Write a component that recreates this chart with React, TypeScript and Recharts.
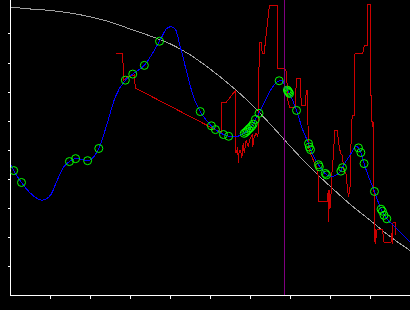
import React from "react";
import { ComposedChart, Line, Scatter, XAxis, YAxis, ReferenceLine } from "recharts";

// axis ticks (no labels in the original)
const xTicks = [1, 2, 3, 4, 5, 6, 7, 8, 9];
const yTicks = [1, 2, 3, 4, 5, 6, 7, 8, 9];
const cursorX = 6.86;

// grey envelope
const envelope: [number, number][] = [
  [0, 9.93], [0.5, 9.86], [1, 9.81], [1.5, 9.72], [2, 9.59], [2.5, 9.41], [3, 9.17],
  [3.5, 8.93], [4, 8.66], [4.5, 8.28], [5, 7.79], [5.5, 7.24], [6, 6.62], [6.5, 5.9],
  [7, 5.14], [7.5, 4.41], [8, 3.76], [8.5, 3.14], [9, 2.59], [9.5, 2.03], [10, 1.55],
];

// blue smoothed curve
const smooth: [number, number][] = [
  [0, 4.52], [0.08, 4.3], [0.275, 3.89], [0.5, 3.52], [0.79, 3.28], [1.0, 3.45], [1.17, 3.97],
  [1.33, 4.42], [1.475, 4.61], [1.63, 4.71], [1.775, 4.69], [1.93, 4.64], [2.075, 4.76],
  [2.21, 5.06], [2.42, 5.92], [2.625, 6.84], [2.875, 7.41], [3.06, 7.62], [3.35, 7.92],
  [3.73, 8.75], [3.92, 9.2], [4.02, 9.25], [4.125, 9.17], [4.25, 8.56], [4.42, 7.64],
  [4.58, 6.84], [4.75, 6.33], [5.03, 5.84], [5.13, 5.71], [5.33, 5.54], [5.46, 5.48],
  [5.58, 5.46], [5.71, 5.49], [5.85, 5.58], [5.925, 5.67], [6.0, 5.77], [6.075, 5.9],
  [6.13, 6.06], [6.22, 6.27], [6.42, 6.84], [6.58, 7.21], [6.725, 7.39], [6.79, 7.41],
  [6.875, 7.21], [6.96, 7.01], [7.16, 6.37], [7.31, 5.72], [7.46, 5.23], [7.51, 5.02],
  [7.725, 4.47], [7.9, 4.17], [8.04, 4.1], [8.15, 4.14], [8.275, 4.31], [8.31, 4.41],
  [8.5, 4.83], [8.66, 5.14], [8.71, 5.08], [8.77, 4.92], [8.85, 4.54], [9.11, 3.58],
  [9.275, 2.97], [9.42, 2.64], [9.625, 2.36], [10, 1.84],
];

// green sample rings
const samples: [number, number][] = [
  [0.08, 4.3], [0.275, 3.89], [1.475, 4.61], [1.63, 4.71], [1.93, 4.64], [2.21, 5.06],
  [2.875, 7.41], [3.06, 7.62], [3.35, 7.92], [3.73, 8.75], [4.75, 6.33], [5.03, 5.84],
  [5.13, 5.71], [5.33, 5.54], [5.46, 5.48], [5.85, 5.58], [5.89, 5.62], [5.925, 5.67],
  [5.96, 5.72], [6.0, 5.77], [6.04, 5.83], [6.075, 5.9], [6.13, 6.06], [6.22, 6.27],
  [6.725, 7.39], [6.93, 7.07], [6.95, 7.03], [6.97, 6.99], [6.985, 6.95], [7.16, 6.37],
  [7.46, 5.23], [7.48, 5.11], [7.51, 5.02], [7.71, 4.5], [7.73, 4.43], [7.88, 4.2],
  [7.91, 4.15], [8.27, 4.28], [8.31, 4.4], [8.71, 5.08], [8.77, 4.92], [8.85, 4.54],
  [9.11, 3.58], [9.275, 2.97], [9.31, 2.9], [9.35, 2.76], [9.42, 2.64],
];

// red raw trace
const trace: [number, number][] = [
  [2.65, 8.34], [2.8, 8.34], [2.82, 7.93], [2.84, 7.41], [2.925, 7.52], [3.1, 7.59],
  [3.125, 7.14], [5.125, 5.71], [5.27, 5.63], [5.27, 6.63], [5.39, 6.63], [5.64, 7.07],
  [5.64, 4.9], [5.69, 5.1], [5.7, 4.55], [5.725, 5.0], [5.76, 5.0], [5.79, 4.72],
  [5.825, 5.24], [5.85, 4.9], [5.9, 5.34], [5.95, 5.14], [6.0, 5.41], [6.05, 5.52],
  [6.06, 5.1], [6.1, 5.45], [6.15, 5.59], [6.19, 5.45], [6.21, 5.79], [6.225, 8.72],
  [6.275, 8.72], [6.3, 8.34], [6.35, 8.34], [6.375, 8.66], [6.48, 9.98], [6.675, 9.98],
  [6.69, 7.82], [6.86, 7.82], [6.91, 7.69], [6.94, 6.72], [6.99, 6.48], [7.14, 6.48],
  [7.15, 7.48], [7.25, 7.48], [7.26, 6.97], [7.29, 6.55], [7.39, 6.55], [7.4, 7.07],
  [7.44, 7.07], [7.45, 5.34], [7.475, 5.0], [7.6, 4.59], [7.65, 4.45], [7.7, 4.14],
  [7.71, 3.24], [7.94, 3.24], [7.95, 3.62], [7.96, 2.52], [7.99, 3.62], [8.01, 3.0],
  [8.04, 4.14], [8.09, 4.93], [8.11, 5.69], [8.175, 5.69], [8.225, 5.17], [8.26, 4.9],
  [8.3, 4.83], [8.35, 4.31], [8.4, 4.17], [8.44, 3.62], [8.46, 3.38], [8.5, 3.76],
  [8.51, 5.1], [8.54, 5.34], [8.55, 6.21], [8.6, 6.21], [8.61, 8.0], [8.625, 8.33],
  [8.82, 8.33], [8.84, 8.52], [8.875, 8.62], [8.93, 8.62], [8.94, 10.0], [9.02, 10.0],
  [9.025, 5.98], [9.06, 5.98], [9.075, 5.79], [9.09, 5.97], [9.1, 3.38], [9.125, 1.79],
  [9.14, 2.28], [9.16, 1.97], [9.175, 2.28], [9.31, 2.28], [9.35, 1.83], [9.525, 1.83],
  [9.54, 2.14], [9.56, 1.76], [9.575, 2.52], [9.625, 2.52], [9.64, 2.07],
];

const toRows = (pts: [number, number][]) => pts.map(([x, y]) => ({ x, y }));

// no tick labels, but keep the tick marks
const NoLabel = () => <g />;

function Ring(props: any) {
  const { cx, cy } = props;
  if (cx == null || cy == null) return <g />;
  return <circle cx={cx} cy={cy} r={4} fill="none" stroke="#00ff00" strokeWidth={1} />;
}

export default function App() {
  return (
    <div className="plot" style={{ position: "absolute", left: 0, top: 0, width: 410, height: 310, background: "#000" }}>
      <style>{`.plot path, .plot line { shape-rendering: crispEdges; }`}</style>
      <ComposedChart width={410} height={310} margin={{ top: 0, right: 0, bottom: 0, left: 0 }}>
        <XAxis
          dataKey="x"
          type="number"
          domain={[0, 10]}
          ticks={xTicks}
          tick={NoLabel}
          tickSize={3}
          height={14.5}
          axisLine={{ stroke: "#fff" }}
          tickLine={{ stroke: "#fff" }}
          allowDataOverflow
        />
        <YAxis
          dataKey="y"
          type="number"
          domain={[0, 10.17]}
          ticks={yTicks}
          tick={NoLabel}
          tickSize={3}
          width={10.5}
          axisLine={{ stroke: "#fff" }}
          tickLine={{ stroke: "#fff" }}
          allowDataOverflow
        />
        <Line data={toRows(envelope)} dataKey="y" type="monotone" stroke="#a0a0a0" strokeWidth={1} dot={false} isAnimationActive={false} />
        <Line data={toRows(trace)} dataKey="y" type="linear" stroke="#cc0000" strokeWidth={1} dot={false} isAnimationActive={false} />
        <Line data={toRows(smooth)} dataKey="y" type="monotone" stroke="#0000ff" strokeWidth={1} dot={false} isAnimationActive={false} />
        <ReferenceLine x={cursorX} stroke="#800080" strokeWidth={1} />
        <Scatter data={toRows(samples)} dataKey="y" shape={Ring} isAnimationActive={false} />
      </ComposedChart>
    </div>
  );
}
